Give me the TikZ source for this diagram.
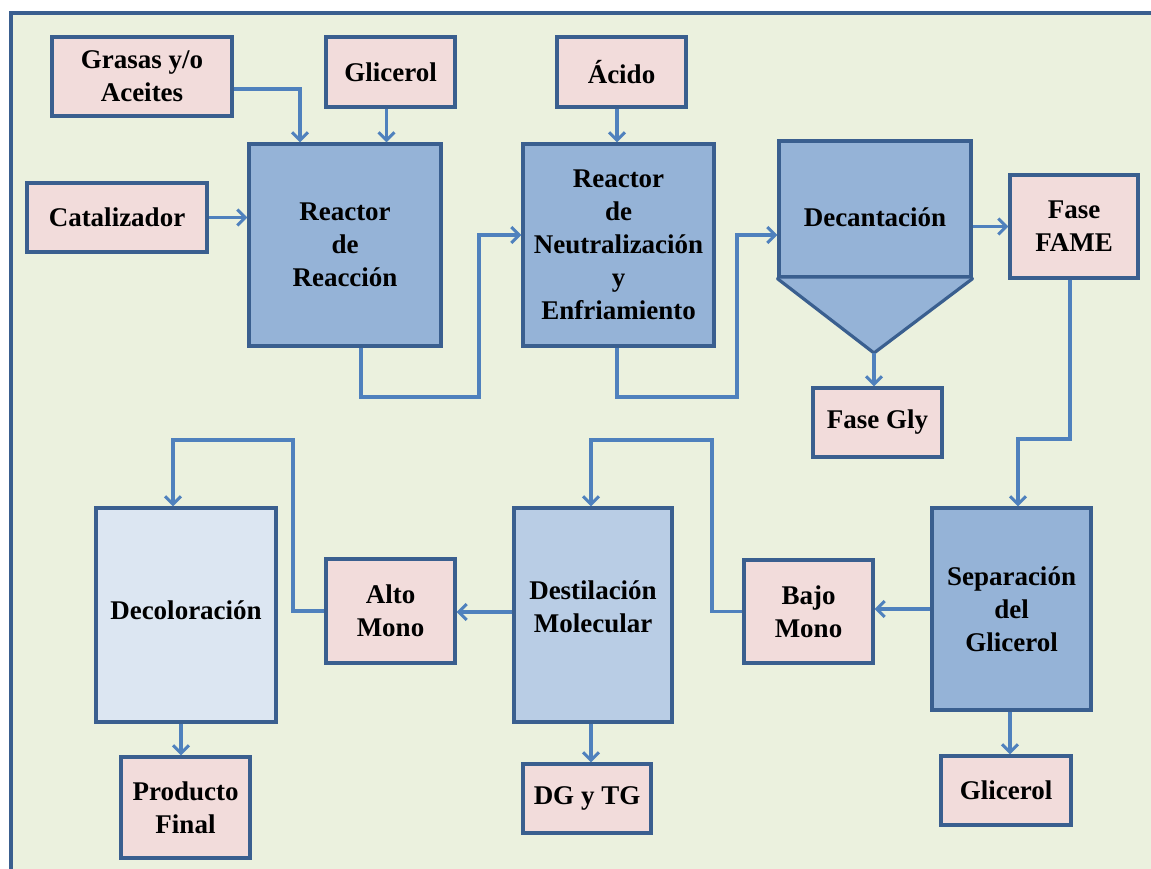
\documentclass[tikz,border=0pt]{standalone}
\usepackage{fontspec}
\setmainfont{Liberation Serif}
\usetikzlibrary{arrows.meta}
\definecolor{bgc}{HTML}{EBF1DE}
\definecolor{framec}{HTML}{3A5F8F}
\definecolor{edgec}{HTML}{3A5F8F}
\definecolor{bluef}{HTML}{95B3D7}
\definecolor{midf}{HTML}{B9CDE5}
\definecolor{lightf}{HTML}{DCE6F2}
\definecolor{pinkf}{HTML}{F2DCDB}
\definecolor{arrc}{HTML}{4F81BD}
\begin{document}
\begin{tikzpicture}[x=1pt,y=-1pt,
  box/.style={draw=edgec, line width=3.2pt, inner sep=0pt, align=center,
    font=\fontsize{27}{33}\selectfont\bfseries},
  pinkbox/.style={box, fill=pinkf},
  bluebox/.style={box, fill=bluef},
  arr/.style={draw=arrc, line width=3.3pt, -{Straight Barb[length=8pt,width=16pt,line width=3pt]}}
]
\useasboundingbox (0,0) rectangle (1151,869);
\fill[bgc] (11,13) rectangle (1151,869);
\draw[framec, line width=3.5pt] (11,869) -- (11,13) -- (1151,13);

% nodes
\node[pinkbox, minimum width=180pt, minimum height=79pt] (grasas) at (142,76.5) {Grasas y/o\\Aceites};
\node[pinkbox, minimum width=180pt, minimum height=69pt] (catal) at (117,217.5) {Catalizador};
\node[pinkbox, minimum width=129pt, minimum height=70pt] (glic1) at (390.5,72) {Glicerol};
\node[pinkbox, minimum width=129pt, minimum height=70pt] (acido) at (621.5,72) {Ácido};
\node[bluebox, minimum width=192pt, minimum height=202pt] (reactor1) at (345,245) {Reactor\\de\\Reacción};
\node[bluebox, minimum width=191pt, minimum height=202pt] (reactor2) at (618.5,245) {Reactor\\de\\Neutralización\\y\\Enfriamiento};
\coordinate (tip) at (874,353);
\node[bluebox, minimum width=192pt, minimum height=136pt] (decant) at (875,209) {};
\fill[bluef] (decant.south west) -- (tip) -- (decant.south east) -- cycle;
\draw[edgec, line width=3.2pt, line join=round, line cap=round] (decant.south west) -- (tip) -- (decant.south east);
\node[box, draw=none] (decanttxt) at (875,217) {Decantación};
\node[pinkbox, minimum width=128pt, minimum height=103pt] (fame) at (1074,226.5) {Fase\\FAME};
\node[pinkbox, minimum width=129pt, minimum height=69pt] (gly) at (877.5,422.5) {Fase Gly};
\node[bluebox, minimum width=159pt, minimum height=202pt] (sep) at (1011.5,609) {Separación\\del\\Glicerol};
\node[pinkbox, minimum width=130pt, minimum height=69pt] (glic2) at (1006,790.5) {Glicerol};
\node[pinkbox, minimum width=129pt, minimum height=103pt] (bajo) at (808.5,611.5) {Bajo\\Mono};
\node[box, fill=midf, minimum width=158pt, minimum height=214pt] (dest) at (593,615) {};
\node[box, draw=none] (desttxt) at (593,607) {Destilación\\Molecular};
\node[pinkbox, minimum width=129pt, minimum height=104pt] (alto) at (390.5,611) {Alto\\Mono};
\node[box, fill=lightf, minimum width=180pt, minimum height=214pt] (decol) at (186,615) {};
\node[box, draw=none] (decoltxt) at (186,610) {Decoloración};
\node[pinkbox, minimum width=129pt, minimum height=101pt] (prod) at (185.5,807.5) {Producto\\Final};
\node[pinkbox, minimum width=128pt, minimum height=69pt] (dgtg) at (587,798.5) {DG y TG};

% bend points
\coordinate (b1) at (479,397);
\coordinate (b2) at (737,397);
\coordinate (b3) at (1018,439);
\coordinate (b4) at (712,440);
\coordinate (b5) at (591,440);
\coordinate (b6) at (293,440);
\coordinate (b7) at (173,440);

% connectors
\draw[arr] ([yshift=-12.5pt]grasas.east) -| ([xshift=-45pt]reactor1.north);
\draw[arr] ([xshift=-4pt]glic1.south) -- ([xshift=-4pt]glic1.south |- reactor1.north);
\draw[arr] (catal.east) -- (catal.east -| reactor1.west);
\draw[arr] ([xshift=16pt]reactor1.south) |- (b1) |- ([yshift=10pt]reactor2.west);
\draw[arr] ([xshift=-4.5pt]acido.south) -- ([xshift=-4.5pt]acido.south |- reactor2.north);
\draw[arr] ([xshift=-1.5pt]reactor2.south) |- (b2) |- ([yshift=-26pt]decant.west);
\draw[arr] (fame.west -| decant.east) -- (fame.west);
\draw[arr] (tip) -- (tip |- gly.north);
\draw[arr] ([xshift=-4pt]fame.south) |- (b3) -- (b3 |- sep.north);
\draw[arr] (sep.west) -- (sep.west -| bajo.east);
\draw[arr] ([xshift=-1.5pt]sep.south) -- ([xshift=-1.5pt]sep.south |- glic2.north);
\draw[arr] (bajo.west) -| (b4) -- (b5) -- (b5 |- dest.north);
\draw[arr] ([yshift=3pt]dest.west) -- ([yshift=3pt]dest.west -| alto.east);
\draw[arr] ([xshift=-2pt]dest.south) -- ([xshift=-2pt]dest.south |- dgtg.north);
\draw[arr] (alto.west) -| (b6) -- (b7) -- (b7 |- decol.north);
\draw[arr] ([xshift=-5pt]decol.south) -- ([xshift=-5pt]decol.south |- prod.north);
\end{tikzpicture}
\end{document}
